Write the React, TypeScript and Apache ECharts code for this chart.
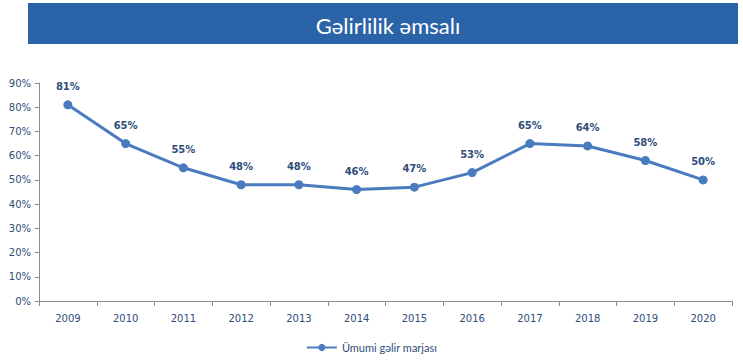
import React, { useEffect, useRef } from "react";
import * as echarts from "echarts";

const years = ["2009", "2010", "2011", "2012", "2013", "2014", "2015", "2016", "2017", "2018", "2019", "2020"];
const margin = [81, 65, 55, 48, 48, 46, 47, 53, 65, 64, 58, 50];
const seriesName = "Ümumi gəlir marjası";
const titleText = "Gəlirlilik əmsalı";

const FONT = "Lato, 'Open Sans', sans-serif";
const AXFONT = "'DejaVu Sans', Verdana, sans-serif";
const TEXT = "#2E4D7B";
const LINE = "#4A7BBF";
const AXIS = "#8C8C8C";

export default function App() {
  const ref = useRef<HTMLDivElement>(null);
  useEffect(() => {
    if (!ref.current) return;
    const chart = echarts.init(ref.current, null, { renderer: "svg" });
    chart.setOption({
      animation: false,
      backgroundColor: "#ffffff",
      textStyle: { fontFamily: FONT },
      graphic: [
        {
          type: "rect",
          left: 28,
          top: 3,
          shape: { width: 710, height: 41 },
          style: { fill: "#2B63A9" },
          z: 0,
        },
      ],
      title: {
        text: titleText,
        left: 383,
        top: 9,
        textAlign: "center",
        textStyle: { color: "#ffffff", fontSize: 22, fontWeight: "normal", fontFamily: FONT },
      },
      legend: {
        bottom: 4,
        left: "center",
        itemWidth: 30,
        itemHeight: 9,
        itemGap: 4,
        textStyle: { color: TEXT, fontSize: 11, fontFamily: FONT },
        data: [seriesName],
      },
      grid: { left: 39, right: 11, top: 83, bottom: 61 },
      xAxis: {
        type: "category",
        data: years,
        boundaryGap: true,
        axisLine: { lineStyle: { color: AXIS, width: 1 } },
        axisTick: { show: true, length: 5, lineStyle: { color: AXIS } },
        axisLabel: { color: TEXT, fontSize: 10, margin: 12, fontFamily: AXFONT },
      },
      yAxis: {
        type: "value",
        min: 0,
        max: 90,
        interval: 10,
        axisLine: { show: true, lineStyle: { color: AXIS, width: 1 } },
        axisTick: { show: true, length: 4, lineStyle: { color: AXIS } },
        splitLine: { show: false },
        axisLabel: { color: TEXT, fontSize: 10, formatter: "{value}%", margin: 8, fontFamily: AXFONT },
      },
      series: [
        {
          name: seriesName,
          type: "line",
          data: margin,
          symbol: "circle",
          symbolSize: 9,
          lineStyle: { color: LINE, width: 3 },
          itemStyle: { color: LINE },
          label: {
            show: true,
            position: "top",
            distance: 9,
            formatter: "{c}%",
            color: TEXT,
            fontSize: 10,
            fontWeight: "bold",
            fontFamily: AXFONT,
          },
        },
      ],
    });
    return () => chart.dispose();
  }, []);
  return <div ref={ref} style={{ width: 743, height: 362, position: "absolute", left: 0, top: 0 }} />;
}
